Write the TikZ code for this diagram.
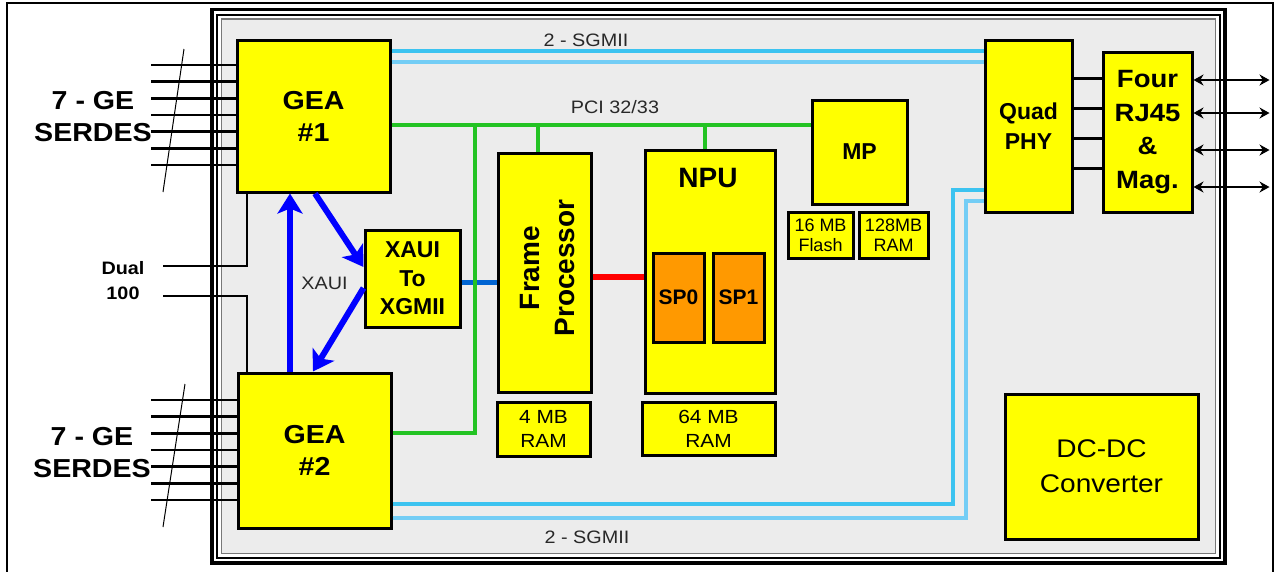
\documentclass[tikz,border=0pt]{standalone}
\usepackage{fontspec}
\setmainfont{Liberation Sans}
\newfontfamily\nfnt{Liberation Sans}
\newfontfamily\wfnt{Liberation Sans}[FakeStretch=1.1]
\usetikzlibrary{arrows.meta,calc}
\definecolor{chipY}{RGB}{255,255,0}
\definecolor{spO}{RGB}{255,153,0}
\definecolor{boardG}{RGB}{236,236,236}
\definecolor{sgA}{RGB}{60,195,240}
\definecolor{sgB}{RGB}{115,205,245}
\definecolor{pciG}{RGB}{35,195,35}
\definecolor{xauiB}{RGB}{0,0,255}
\definecolor{linkB}{RGB}{0,100,210}
\definecolor{linkR}{RGB}{255,0,0}
\definecolor{frameG}{RGB}{120,120,120}
\definecolor{labG}{RGB}{40,40,40}
\begin{document}
\begin{tikzpicture}[x=1pt,y=-1pt,
  chip/.style={draw=black, line width=3pt, fill=chipY, inner sep=0pt, align=center},
  spbox/.style={draw=black, line width=3pt, fill=spO, inner sep=0pt, align=center,
    minimum width=51pt, minimum height=89pt, font=\nfnt\bfseries\fontsize{21}{24}\selectfont},
  bigw/.style={font=\wfnt\bfseries\fontsize{26}{32}\selectfont},
  lab26/.style={align=center, inner sep=0pt, font=\wfnt\bfseries\fontsize{26}{32}\selectfont},
  dual/.style={align=center, inner sep=0pt, font=\wfnt\bfseries\fontsize{18}{25}\selectfont},
  lab18/.style={align=center, inner sep=0pt, text=labG, font=\wfnt\fontsize{18}{22}\selectfont},
  ram/.style={chip, font=\wfnt\fontsize{19}{24}\selectfont},
  smallram/.style={chip, font=\nfnt\fontsize{18}{20}\selectfont, minimum height=46pt},
  geline/.style={draw=black, line width=2.5pt},
  dline/.style={draw=black, line width=2pt},
  xa/.style={draw=xauiB, line width=6pt, -{Stealth[length=20pt,width=25pt,inset=5pt]}},
  lb/.style={draw=linkB, line width=5pt},
  lr/.style={draw=linkR, line width=6pt},
  pci/.style={draw=pciG, line width=4pt},
  sga/.style={draw=sgA, line width=4pt},
  sgb/.style={draw=sgB, line width=4pt},
  qline/.style={draw=black, line width=3pt},
  bid/.style={draw=black, line width=2.5pt, arrows={Stealth[length=10pt,width=11pt]-Stealth[length=10pt,width=11pt]}}
]
\useasboundingbox (0,0) rectangle (1281,571);
\fill[white] (0,0) rectangle (1281,571);
% outer picture border
\draw[line width=1.5pt] (7,575) -- (7,3) -- (1273,3) -- (1273,575);
% board frame
\draw[line width=3.5pt] (212,9.5) rectangle (1225,563);
\draw[line width=2pt] (217,14.5) rectangle (1220,558);
\draw[line width=1.5pt, draw=frameG, fill=boardG] (221.5,19) rectangle (1215.5,553.5);

% chips
\node[chip, bigw, minimum width=153pt, minimum height=152pt] (gea1) at (313.5,116) {GEA\\\#1};
\node[chip, bigw, minimum width=153pt, minimum height=155pt] (gea2) at (314.5,450.5) {GEA\\\#2};
\node[chip, minimum width=95pt, minimum height=97pt, font=\nfnt\bfseries\fontsize{23}{28.5}\selectfont] (xaui) at (412.5,278.5) {XAUI\\To\\XGMII};
\node[chip, minimum width=93pt, minimum height=239pt] (fp) at (544.5,272.5) {};
\node[rotate=90, align=center, inner sep=0pt, font=\nfnt\bfseries\fontsize{28}{35}\selectfont] (fplab) at (547,268) {Frame\\Processor};
\node[ram, minimum width=93pt, minimum height=54pt] (ram4) at (543.5,429) {4 MB\\RAM};
\node[chip, minimum width=130pt, minimum height=243pt] (npu) at (710,271.5) {};
\node[inner sep=0pt, font=\nfnt\bfseries\fontsize{28}{32}\selectfont] (npulab) at (708,178) {NPU};
\node[spbox] (sp0) at (678.5,297.5) {SP0};
\node[spbox] (sp1) at (738.5,297.5) {SP1};
\node[ram, minimum width=133pt, minimum height=53pt] (ram64) at (708.5,428.5) {64 MB\\RAM};
\node[chip, minimum width=95pt, minimum height=104pt, font=\nfnt\bfseries\fontsize{23}{28}\selectfont] (mp) at (859.5,152) {MP};
\node[smallram, minimum width=65pt] (flash) at (820.5,235) {16 MB\\Flash};
\node[smallram, minimum width=69pt] (ram128) at (893.5,235) {128MB\\RAM};
\node[chip, minimum width=87pt, minimum height=172pt, font=\nfnt\bfseries\fontsize{23}{30}\selectfont] (qphy) at (1028.5,126) {Quad\\PHY};
\node[chip, minimum width=89pt, minimum height=160pt, font=\wfnt\bfseries\fontsize{25}{33.5}\selectfont] (rj45) at (1147.5,132) {Four\\RJ45\\\&\\Mag.};
\node[chip, minimum width=193pt, minimum height=145pt, font=\wfnt\fontsize{25.5}{35}\selectfont] (dcdc) at (1101.5,466.5) {DC-DC\\Converter};

% left labels
\node[lab26] (ge1lab) at (93,117) {7 - GE\\SERDES};
\node[lab26] (ge2lab) at (92,453) {7 - GE\\SERDES};
\node[dual] (duallab) at (123,281) {Dual\\100};

% GE lines
\foreach \i in {0,...,6} {
  \draw[geline] ([yshift={51pt-16.67pt*\i}]gea1.west) -- ++(-85,0);
  \draw[geline] ([yshift={50.5pt-16.67pt*\i}]gea2.west) -- ++(-86,0);
}
\draw[line width=1pt] (184,49) -- (163,192);
\draw[line width=1pt] (185,384) -- (163,527);

% Dual 100 lines
\coordinate (d1) at (163,266);
\coordinate (d2) at (163,296);
\draw[dline] ([xshift=11pt]gea1.south west) |- (d1);
\draw[dline] ([xshift=10pt]gea2.north west) |- (d2);

% XAUI arrows
\path ([xshift=-24.5pt]gea2.north) coordinate (v);
\draw[xa] (v) -- (v |- gea1.south);
\draw[xa] ([xshift=1.5pt]gea1.south) -- ([yshift=11.5pt]xaui.west);
\draw[xa] ([yshift=-9.5pt]xaui.west) -- ([xshift=-1.5pt]gea2.north);
\node[lab18] (xauilab) at (324.5,283) {XAUI};

% XGMII link and FP-NPU link
\path ([yshift=-3.5pt]xaui.east) coordinate (xl);
\draw[lb] (xl) -- (xl -| fp.west);
\path ([yshift=-4.5pt]fp.east) coordinate (rl);
\draw[lr] (rl) -- (rl -| npu.west);

% PCI bus
\path ([yshift=-9pt]gea1.east) coordinate (p0);
\draw[pci] (p0) -- (p0 -| mp.west);
\coordinate (pj) at (475,125);
\draw[pci] (pj) |- ([yshift=17.5pt]gea2.east);
\path ([xshift=-6.5pt]fp.north) coordinate (pf);
\draw[pci] (pf) -- (pf |- p0);
\path ([xshift=-5pt]npu.north) coordinate (pn);
\draw[pci] (pn) -- (pn |- p0);
\node[lab18] (pcilab) at (615,107) {PCI 32/33};

% SGMII top
\path ([yshift=-12pt]gea1.north east) coordinate (s1);
\draw[sga] (s1) -- (s1 -| qphy.west);
\path ([yshift=-23pt]gea1.north east) coordinate (s2);
\draw[sgb] (s2) -- (s2 -| qphy.west);
\node[lab18] (sg1lab) at (586,40) {2 - SGMII};

% SGMII bottom
\draw[sga] ([yshift=26pt]gea2.south east) -| ([xshift=-31pt,yshift=24pt]qphy.south west) -- ([yshift=24pt]qphy.south west);
\draw[sgb] ([yshift=12pt]gea2.south east) -| ([xshift=-18pt,yshift=13pt]qphy.south west) -- ([yshift=13pt]qphy.south west);
\node[lab18] (sg2lab) at (587,537) {2 - SGMII};

% PHY to RJ45
\foreach \s in {48,18,-12,-42} {
  \path ([yshift=\s*1pt]qphy.east) coordinate (q);
  \draw[qline] (q) -- (q -| rj45.west);
}
% RJ45 ports
\foreach \s [count=\k] in {52,19,-18,-55} {
  \path ([yshift=\s*1pt]rj45.east) coordinate (r\k);
  \draw[bid] (r\k) -- ++(76,0);
}
\end{tikzpicture}
\end{document}
